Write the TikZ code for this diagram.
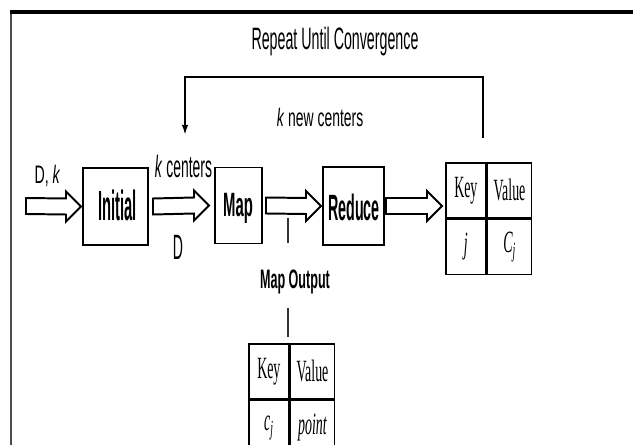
\documentclass[tikz,border=0pt]{standalone}
\usepackage{fontspec}
\setmainfont{Liberation Sans}
\newfontfamily\tabfont{Liberation Serif}
\usetikzlibrary{arrows.meta,positioning,calc}

% hollow arrow between two named points (horizontal)
\newcommand{\fatarrow}[2]{%
  \draw[fat] ($(#1)+(0,-8)$) -- ($(#2)+(-15,-8)$) -- ($(#2)+(-15,-15)$) -- (#2)
    -- ($(#2)+(-15,15)$) -- ($(#2)+(-15,8)$) -- ($(#1)+(0,8)$) -- cycle;
}

% key/value table: name, top left corner, key, value
\newcommand{\kvtable}[5]{%
  \node[cell, minimum width=1cm, minimum height=1.375cm] (#1k) at (#2) {};
  \node[cell, minimum width=1.1cm, minimum height=1.375cm] (#1v) at (#1k.north east) {};
  \node[cell, minimum width=1cm, minimum height=1.375cm] (#1a) at (#1k.south west) {};
  \node[cell, minimum width=1.1cm, minimum height=1.375cm] (#1b) at (#1k.south east) {};
  \node[tabtxt] (#1kt) at (#1k) {Key};
  \node[tabtxt] (#1vt) at (#1v) {Value};
  \node[tabtxt] (#1at) at (#1a) {#4};
  \node[tabtxt] (#1bt) at (#1b) {#5};
}

\begin{document}
\begin{tikzpicture}[
    x=0.025cm, y=-0.025cm,
    box/.style={draw, line width=1.4pt, inner sep=0pt},
    fat/.style={draw, line width=1.4pt, line join=miter},
    cell/.style={draw, line width=1.2pt, anchor=north west, inner sep=0pt},
    lbl/.style={inner sep=0pt, anchor=base},
    tabtxt/.style={inner sep=0pt, font=\tabfont\fontsize{22pt}{24pt}\selectfont, xscale=0.45},
    thin/.style={line width=0.8pt, draw=black!80}
]
    \useasboundingbox (0,0) rectangle (633,445);
    \clip (0,0) rectangle (633,445);

    % --- frame ---
    \draw[line width=1.4pt, draw=black!70] (11,445) -- (11,13);
    \draw[line width=2.8pt] (10,12) -- (633,12);

    % --- title and loop back ---
    \node[lbl, font=\fontsize{22pt}{24pt}\selectfont, xscale=0.46] (title) at (335,50) {Repeat Until Convergence};
    \coordinate (loopR) at (483,138);
    \coordinate (loopL) at (185,135);
    \coordinate (loopTop) at (0,77);
    \draw[line width=1.3pt, -{Latex[length=2.5mm,width=1.6mm]}]
        (loopR) -- (loopR |- loopTop) -- (loopL |- loopTop) -- (loopL);
    \node[lbl, font=\fontsize{18pt}{20pt}\selectfont, xscale=0.55] (newc) at (320,127) {\textit{k} new centers};

    % --- boxes ---
    \node[box, minimum width=1.625cm, minimum height=1.925cm] (init) at (115.5,206.5) {};
    \node[box, minimum width=1.175cm, minimum height=1.9cm] (map) at (238.5,205.5) {};
    \node[box, minimum width=1.525cm, minimum height=1.95cm] (red) at (353.5,206) {};
    \node[lbl, font=\bfseries\fontsize{30pt}{32pt}\selectfont, xscale=0.35] (initT) at (117.5,221) {Initial};
    \node[lbl, font=\bfseries\fontsize{24pt}{26pt}\selectfont, xscale=0.44] (mapT) at (238,217) {Map};
    \node[lbl, font=\bfseries\fontsize{26pt}{28pt}\selectfont, xscale=0.39] (redT) at (354,221) {Reduce};

    % --- output table of reduce ---
    \kvtable{t1}{445,162}{}{\textit{j}}{\textit{C}\textsubscript{\textit{j}}}

    % --- hollow arrows ---
    \coordinate (inS) at (26,206);
    \coordinate (inE) at ($(init.west)+(-1,0)$);
    \coordinate (a2S) at ($(init.east)+(4,0)$);
    \coordinate (a2E) at ($(map.west)+(-5,0)$);
    \coordinate (a3S) at ($(map.east)+(3,0)$);
    \coordinate (a3E) at ($(red.west)+(-1,0)$);
    \coordinate (a4S) at ($(red.east)+(1,0)$);
    \coordinate (a4E) at ($(a4S -| t1k.west)+(-3,0)$);
    \fatarrow{inS}{inE}
    \fatarrow{a2S}{a2E}
    \fatarrow{a3S}{a3E}
    \fatarrow{a4S}{a4E}

    % --- arrow labels ---
    \node[lbl, font=\fontsize{18pt}{20pt}\selectfont, xscale=0.56] (dk) at (47.5,184) {D, \textit{k}};
    \node[lbl, font=\fontsize{22pt}{24pt}\selectfont, xscale=0.45] (kc) at (183.5,178) {\textit{k} centers};
    \node[lbl, font=\fontsize{25pt}{27pt}\selectfont, xscale=0.4] (dd) at (178,260) {D};

    % --- map output ---
    \coordinate (tickA) at (288,218);
    \coordinate (tickB) at (288,243);
    \draw[thin] (tickA) -- (tickB);
    \node[lbl, font=\bfseries\fontsize{19pt}{21pt}\selectfont, xscale=0.47] (mapout) at (295,289) {Map Output};
    \coordinate (tickC) at (288,308);
    \coordinate (tickD) at (288,337);
    \draw[thin] (tickC) -- (tickD);
    \kvtable{t2}{248,343}{}{\textit{c}\textsubscript{\textit{j}}}{\textit{point}}

\end{tikzpicture}
\end{document}
